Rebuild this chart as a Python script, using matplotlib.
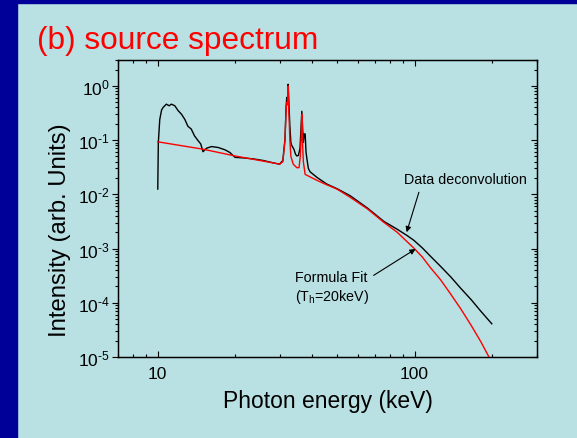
import numpy as np
import matplotlib
matplotlib.use('Agg')
import matplotlib.pyplot as plt
from matplotlib.patches import Rectangle
from matplotlib.ticker import LogLocator, NullFormatter, FuncFormatter

plt.rcParams['font.family'] = ['Liberation Sans', 'DejaVu Sans']
plt.rcParams['mathtext.fontset'] = 'custom'
plt.rcParams['mathtext.rm'] = 'Liberation Sans'
plt.rcParams['mathtext.it'] = 'Liberation Sans:italic'
plt.rcParams['mathtext.default'] = 'regular'

# data deconvolution (black)
data_e = [10.0, 10.05, 10.18, 10.35, 10.49, 10.8, 11.07, 11.3, 11.65, 12.0, 12.37, 12.75,
          13.1, 13.5, 13.9, 14.37, 14.7, 15.0, 15.5, 16.2, 17.2, 18.3, 19.1, 20.0, 21.5,
          23.6, 25.8, 28.2, 29.8, 30.7, 31.3, 31.6, 31.8, 32.0, 32.2, 32.4, 32.7, 33.0,
          33.2, 33.5, 33.9, 34.4, 34.8, 35.3, 35.8, 36.1, 36.4, 36.7, 36.9, 37.2, 37.5,
          37.8, 38.1, 38.6, 39.2, 41.7, 45.5, 49.9, 56.2, 65.5, 75.9, 85.6, 93.7, 99.4,
          107.2, 115.1, 126.3, 138.4, 151.2, 166, 181.2, 200]
data_i = [0.0125, 0.09, 0.24, 0.36, 0.40, 0.46, 0.43, 0.46, 0.43, 0.35, 0.30, 0.24,
          0.18, 0.16, 0.12, 0.097, 0.085, 0.061, 0.071, 0.076, 0.073, 0.066, 0.059, 0.048, 0.047,
          0.045, 0.042, 0.038, 0.036, 0.042, 0.104, 0.40, 0.61, 0.55, 1.07, 0.50, 0.18, 0.09,
          0.081, 0.075, 0.068, 0.055, 0.051, 0.052, 0.07, 0.15, 0.34, 0.15, 0.091, 0.13, 0.13,
          0.06, 0.045, 0.030, 0.026, 0.0205, 0.0155, 0.0127, 0.0094, 0.0056, 0.00318, 0.00227, 0.00173, 0.00142,
          1.03e-3, 7.3e-4, 4.7e-4, 3.0e-4, 1.86e-4, 1.15e-4, 7.0e-5, 4.1e-5]

# formula fit (red)
fit_e = [10.0, 15.0, 20.0, 25.0, 29.9, 30.7, 31.3, 31.6, 31.8, 32.0, 32.2, 32.4, 32.7,
         33.0, 33.7, 34.8, 35.5, 35.9, 36.2, 36.4, 36.6, 36.9, 37.5, 39.2, 41.7, 45.5,
         49.9, 56.2, 65.5, 75.9, 85.6, 92.2, 99.4, 107.2, 115.1, 126.3, 138.4, 151.2, 166,
         181.2, 195, 200]
fit_i = [0.093, 0.068, 0.051, 0.042, 0.036, 0.04, 0.1, 0.35, 0.5, 0.45, 1.0, 0.35, 0.1,
         0.05, 0.036, 0.031, 0.031, 0.05, 0.12, 0.30, 0.10, 0.04, 0.0233, 0.021, 0.0181, 0.0150,
         0.0125, 0.0088, 0.0054, 0.00305, 0.0020, 0.00143, 0.00102, 7.0e-4, 4.5e-4, 2.66e-4,
         1.44e-4, 7.8e-5, 3.87e-5, 1.92e-5, 1.0e-5, 8e-6]

bg = '#B9E0E3'
fig = plt.figure(figsize=(5.77, 4.39), dpi=100, facecolor=bg)
fig.patches.append(Rectangle((0, 0), 17/577., 1, transform=fig.transFigure, color='#000099', zorder=0))
fig.patches.append(Rectangle((0, 1-4/439.), 1, 4/439., transform=fig.transFigure, color='#000099', zorder=0))

ax = fig.add_axes([118/577., 81/439., 419/577., 297/439.])
ax.set_facecolor('none')
ax.set_xscale('log')
ax.set_yscale('log')
ax.set_xlim(7, 300)
ax.set_ylim(1e-5, 3)

ax.plot(fit_e, fit_i, color='#FF0000', lw=1.0, zorder=3)
ax.plot(data_e, data_i, color='black', lw=1.0, zorder=2)

for sp in ax.spines.values():
    sp.set_linewidth(1.0)

def ylab(v, p):
    e = int(round(np.log10(v)))
    if e < 0:
        return '$10^{\\text{-}%d}$' % (-e)
    return '$10^{%d}$' % e

ax.yaxis.set_major_locator(LogLocator(base=10, numticks=10))
ax.yaxis.set_minor_locator(LogLocator(base=10, subs=np.arange(2, 10), numticks=10))
ax.yaxis.set_major_formatter(FuncFormatter(ylab))
ax.yaxis.set_minor_formatter(NullFormatter())
ax.xaxis.set_major_formatter(FuncFormatter(lambda v, p: '%d' % round(v)))
ax.xaxis.set_minor_formatter(NullFormatter())
ax.tick_params(axis='x', which='both', direction='in', top=True, labelsize=12.5, pad=6.5, width=0.8)
ax.tick_params(axis='y', which='both', direction='out', labelsize=12.5, pad=2, width=0.8)
ax.tick_params(which='major', length=4)
ax.tick_params(which='minor', length=2)

# inward ticks on the right side
axr = ax.twinx()
axr.set_yscale('log')
axr.set_ylim(ax.get_ylim())
axr.yaxis.set_minor_locator(LogLocator(base=10, subs=np.arange(2, 10), numticks=10))
axr.tick_params(axis='y', which='both', direction='in', labelright=False, width=0.8)
axr.tick_params(which='major', length=4)
axr.tick_params(which='minor', length=2)
axr.set_facecolor('none')

ax.set_xlabel('Photon energy (keV)', fontsize=16.5)
ax.xaxis.set_label_coords(0.5, -0.148)
ax.xaxis.label.set_va('center')
ax.set_ylabel('Intensity (arb. Units)', fontsize=17.2)
ax.yaxis.set_label_coords(-0.138, 0.431)
ax.yaxis.label.set_va('center')

ax.text(90.8, 0.0191, 'Data deconvolution', fontsize=10.3, va='center', ha='left')
ax.annotate('', xy=(93.2, 0.0020), xytext=(104, 0.0109),
            arrowprops=dict(arrowstyle='-|>', color='black', lw=0.8, mutation_scale=8, shrinkA=0, shrinkB=0))
ax.text(34.3, 2.96e-4, 'Formula Fit', fontsize=10.3, va='center', ha='left')
ax.text(34.3, 1.36e-4, '(T$_{\\mathregular{h}}$=20keV)', fontsize=10.3, va='center', ha='left')
ax.annotate('', xy=(100.9, 9.8e-4), xytext=(69.3, 3.2e-4),
            arrowprops=dict(arrowstyle='-|>', color='black', lw=0.8, mutation_scale=8, shrinkA=0, shrinkB=0))

fig.text(37/577., 1-41/439., '(b) source spectrum', color='#FF0000', fontsize=22.8, va='center', ha='left')

plt.savefig('out.png', dpi=100, facecolor=bg)
